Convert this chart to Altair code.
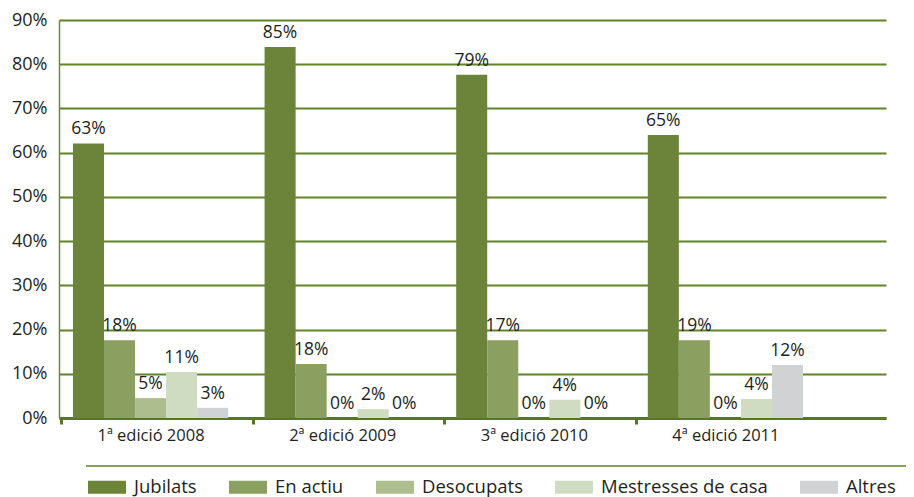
import altair as alt
import pandas as pd

editions = ["1ª edició 2008", "2ª edició 2009", "3ª edició 2010", "4ª edició 2011"]
series = ["Jubilats", "En actiu", "Desocupats", "Mestresses de casa", "Altres"]
colors = ["#6b843a", "#8b9f60", "#adbd8e", "#d0dcc2", "#d1d2d4"]

# bar heights as drawn (percent)
jubilats = [62.1, 83.9, 77.6, 64.0]
en_actiu = [17.6, 12.2, 17.6, 17.6]
desocupats = [4.5, 0.0, 0.0, 0.0]
mestresses = [10.4, 2.0, 4.1, 4.3]
altres = [2.3, 0.0, 0.0, 12.0]

# printed labels
lab_jubilats = ["63%", "85%", "79%", "65%"]
lab_en_actiu = ["18%", "18%", "17%", "19%"]
lab_desocupats = ["5%", "0%", "0%", "0%"]
lab_mestresses = ["11%", "2%", "4%", "4%"]
lab_altres = ["3%", "0%", "0%", "12%"]

y_ticks = [0, 10, 20, 30, 40, 50, 60, 70, 80, 90]

vals = [jubilats, en_actiu, desocupats, mestresses, altres]
labs = [lab_jubilats, lab_en_actiu, lab_desocupats, lab_mestresses, lab_altres]
rows = []
for s, v, l in zip(series, vals, labs):
    for e, vv, ll in zip(editions, v, l):
        rows.append({"edicio": e, "serie": s, "valor": vv, "label": ll})
df = pd.DataFrame(rows)

FONT = "Open Sans"
TXT = "#231f20"

x_enc = alt.X("edicio:N", sort=editions,
              scale=alt.Scale(paddingInner=0.19, paddingOuter=0.253, align=0.144),
              axis=alt.Axis(title=None, labelAngle=0, labelFontSize=16.5, labelColor=TXT,
                            labelFont=FONT, labelPadding=3, labelAlign="center",
                            labelOffset=12, domainColor="#56781f",
                            domainWidth=3, tickColor="#56781f", tickWidth=3, tickSize=6,
                            bandPosition=0, tickOffset=-12, grid=False))
y_enc = alt.Y("valor:Q",
              scale=alt.Scale(domain=[0, 90], nice=False),
              axis=alt.Axis(title=None, values=y_ticks, labelExpr="datum.value + '%'",
                            labelFontSize=18, labelColor=TXT, labelFont=FONT,
                            labelPadding=12, ticks=False, domainColor="#6b8a2f",
                            domainWidth=1.5, gridColor="#5e8426", gridWidth=2))
xoff = alt.XOffset("serie:N", sort=series, scale=alt.Scale(paddingInner=0, paddingOuter=0))

base = alt.Chart(df)

bars = base.mark_bar().encode(
    x=x_enc, y=y_enc, xOffset=xoff,
    color=alt.Color("serie:N", sort=series,
                    scale=alt.Scale(domain=series, range=colors),
                    legend=alt.Legend(title=None, orient="none", direction="horizontal",
                                      legendX=29, legendY=448,
                                      symbolType="M-1,-0.34H1V0.34H-1Z", symbolSize=1444,
                                      symbolStrokeWidth=0, labelFontSize=18.5,
                                      labelFont=FONT, labelColor=TXT, labelOffset=8,
                                      labelLimit=0, columnPadding=32)),
)

text = base.mark_text(baseline="bottom", dy=-5, fontSize=17.5, font=FONT, color=TXT).encode(
    x=x_enc, y=y_enc, xOffset=xoff, text="label:N",
)

line = alt.Chart(df).mark_rule(color="#8aa05a", strokeWidth=2).encode(
    x=alt.value(27), x2=alt.value(847), y=alt.value(446)
)

chart = alt.layer(bars, text, line).properties(
    width=827, height=398,
    autosize=alt.AutoSizeParams(type="none"),
    padding={"left": 51, "top": 12, "right": 20, "bottom": 82},
).configure(background="white").configure_view(stroke=None)

chart.save("out.html", embed_options={"renderer": "svg", "actions": False})
